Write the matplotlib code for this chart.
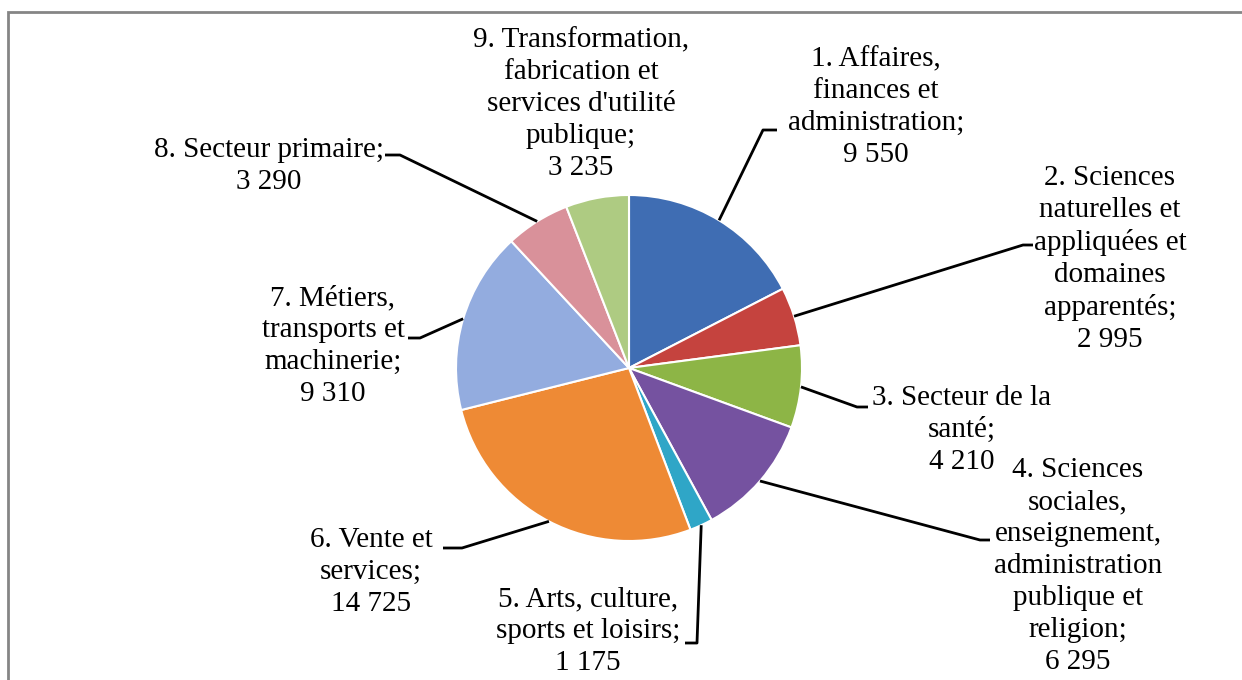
import numpy as np
import matplotlib
matplotlib.use("Agg")
import matplotlib.pyplot as plt
from matplotlib.patches import Rectangle

# data
categories = [
    "1. Affaires,\nfinances et\nadministration;",
    "2. Sciences\nnaturelles et\nappliquées et\ndomaines\napparentés;",
    "3. Secteur de la\nsanté;",
    "4. Sciences\nsociales,\nenseignement,\nadministration\npublique et\nreligion;",
    "5. Arts, culture,\nsports et loisirs;",
    "6. Vente et\nservices;",
    "7. Métiers,\ntransports et\nmachinerie;",
    "8. Secteur primaire;",
    "9. Transformation,\nfabrication et\nservices d'utilité\npublique;",
]
values = [9550, 2995, 4210, 6295, 1175, 14725, 9310, 3290, 3235]
colors = ["#3F6DB3", "#C5433E", "#8DB546", "#7552A0", "#2FA6C7",
          "#EE8A35", "#93ACDF", "#D9919A", "#AECB82"]

# layout (pixels, y measured from top)
W, H = 1242, 680
center = (629, 368)
radius = 173
label_pos = [(876, 107), (1110, 259), (962, 430), (1078, 566), (588, 631),
             (371, 572), (333, 346), (269, 166), (581, 104)]
# elbow and end of each leader line (None = no leader)
leaders = [((763, 130), (777, 130)), ((1023, 245), (1033, 245)),
           ((857, 407), (868, 407)), ((980, 540), (990, 540)),
           ((697, 643), (685, 643)), ((462, 548), (443, 548)),
           ((420, 338), (408, 338)), ((400, 155), (385, 155)), None]

plt.rcParams['font.family'] = ['Liberation Serif', 'DejaVu Serif']

fig = plt.figure(figsize=(W / 100, H / 100), dpi=100)
ax = fig.add_axes([0, 0, 1, 1])

# frame of the chart area
ax.add_patch(Rectangle((8, -20), W + 40, H - 12 + 20, fill=False,
                       edgecolor='#858585', linewidth=2))

wedges, _ = ax.pie(values, colors=colors, startangle=90, counterclock=False,
                   center=(center[0], H - center[1]), radius=radius,
                   wedgeprops=dict(edgecolor='white', linewidth=1.5))
ax.set_xlim(0, W)
ax.set_ylim(0, H)
ax.set_aspect('equal')
ax.axis('off')

for w, cat, v, pos, ld in zip(wedges, categories, values, label_pos, leaders):
    label = cat + "\n" + f"{v:,}".replace(",", " ")
    ax.text(pos[0], H - pos[1], label, ha='center', va='center',
            fontsize=21, linespacing=1.3, color='black')
    if ld is None:
        continue
    ang = np.deg2rad((w.theta1 + w.theta2) / 2)
    x0 = center[0] + radius * np.cos(ang)
    y0 = (H - center[1]) + radius * np.sin(ang)
    (ex, ey), (tx, ty) = ld
    ax.plot([x0, ex, tx], [y0, H - ey, H - ty], color='black', linewidth=2,
            solid_capstyle='butt')

fig.savefig("out.png", dpi=100)
